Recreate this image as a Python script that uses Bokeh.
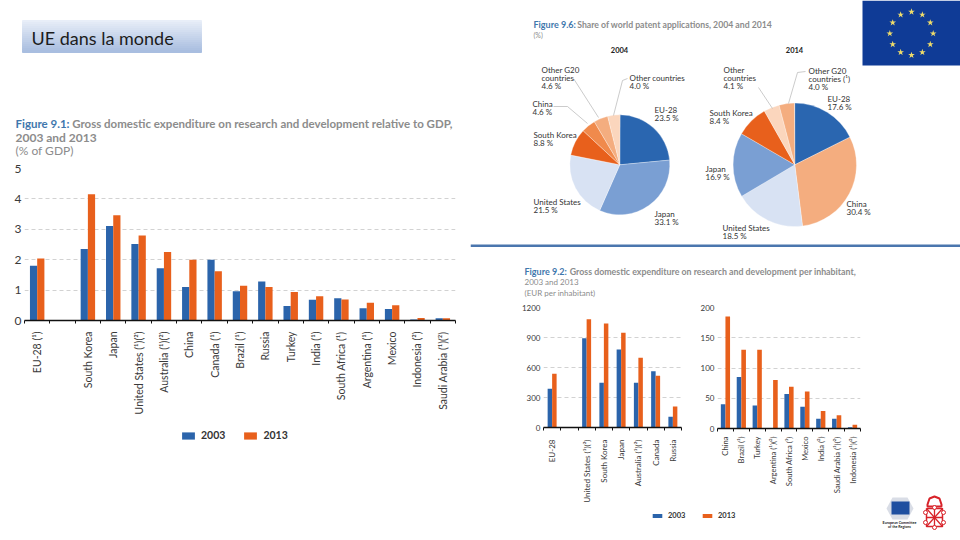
import math
from bokeh.plotting import figure
from bokeh.layouts import row, column
from bokeh.models import (ColumnDataSource, FixedTicker, Legend, LegendItem, Range1d)
from bokeh.core.properties import value
from bokeh.transform import dodge
from bokeh.embed import file_html
from bokeh.resources import INLINE

# ---------- data ----------
gdp_labels = ["EU-28 (¹)", "", "South Korea", "Japan", "United States (¹)(²)", "Australia (¹)(²)", "China",
              "Canada (¹)", "Brazil (¹)", "Russia", "Turkey", "India (¹)", "South Africa (¹)", "Argentina (¹)",
              "Mexico", "Indonesia (²)", "Saudi Arabia (¹)(²)"]
gdp_2003 = [1.80, 0, 2.35, 3.11, 2.52, 1.72, 1.10, 2.00, 0.96, 1.28, 0.48, 0.68, 0.73, 0.40, 0.38, 0.03, 0.07]
gdp_2013 = [2.04, 0, 4.15, 3.46, 2.80, 2.25, 2.00, 1.62, 1.14, 1.10, 0.94, 0.80, 0.69, 0.58, 0.50, 0.08, 0.07]

inh_a_labels = ["EU-28", "", "United States (¹)(²)", "South Korea", "Japan", "Australia (¹)(²)", "Canada", "Russia"]
inh_a_2003 = [387, 0, 893, 447, 780, 447, 563, 107]
inh_a_2013 = [537, 0, 1083, 1040, 947, 697, 517, 210]

inh_b_labels = ["China", "Brazil (¹)", "Turkey", "Argentina (¹)(²)", "South Africa (¹)", "Mexico", "India (²)",
                "Saudi Arabia (¹)(²)", "Indonesia (¹)(²)"]
inh_b_2003 = [40, 85, 38, 0, 57, 36, 16, 16, 2]
inh_b_2013 = [185, 130, 130, 80, 69, 61, 29, 22, 6]

pie04_names = ["EU-28", "Japan", "United States", "South Korea", "China", "Other G20 countries", "Other countries"]
pie04_share = [23.5, 33.1, 21.5, 8.8, 4.6, 4.6, 4.0]
pie14_names = ["EU-28", "China", "United States", "Japan", "South Korea", "Other countries", "Other G20 countries (¹)"]
pie14_share = [17.6, 30.4, 18.5, 16.9, 8.4, 4.1, 4.0]

series_names = ["2003", "2013"]

# ---------- style ----------
BLUE, ORANGE = "#2b64ab", "#e8601c"
GREY, FIGBLUE, DARK = "#8c8c8c", "#3f77ad", "#3a3a3a"
FONT = "Lato"
PIE04_COL = ["#2a66b0", "#7a9fd3", "#d8e2f3", "#e8601c", "#f08a4c", "#f4ad7f", "#fbd6bd"]
PIE14_COL = ["#2a66b0", "#f4ad7f", "#d8e2f3", "#7a9fd3", "#e8601c", "#fbd6bd", "#f4ad7f"]


def canvas(x0, x1, y0, y1):
    """A blank figure whose data coordinates run along the page in pixels."""
    p = figure(width=x1 - x0, height=y1 - y0, x_range=Range1d(x0, x1), y_range=Range1d(y1, y0),
               output_backend="svg", toolbar_location=None, min_border=0,
               x_axis_type=None, y_axis_type=None, outline_line_color=None, frame_align=False)
    p.grid.visible = False
    return p


def write(p, x, y, s, size=8, color=DARK, style="normal", align="left"):
    p.text([x], [y], text=[s], text_font=value(FONT), text_font_size=f"{size}px", text_color=color,
           text_font_style=style, text_align=align, text_baseline="middle")


def bars(labels, v03, v13, W, H, left, right, top, bottom, ymax, yticks, width,
         lab_size, tick_size, standoff):
    n = len(labels)
    src = ColumnDataSource(dict(i=list(range(n)), a=v03, b=v13))
    p = figure(width=W, height=H, x_range=Range1d(-0.5, n - 0.5), y_range=Range1d(0, ymax),
               output_backend="svg", toolbar_location=None, outline_line_color=None,
               min_border_left=left, min_border_right=right, min_border_top=top, min_border_bottom=bottom,
               frame_width=W - left - right, frame_height=H - top - bottom, frame_align=False)
    p.vbar(x=dodge("i", -width / 2, range=p.x_range), top="a", width=width, source=src,
           fill_color=BLUE, line_color=None)
    p.vbar(x=dodge("i", width / 2, range=p.x_range), top="b", width=width, source=src,
           fill_color=ORANGE, line_color=None)
    ax = p.xaxis[0]
    ax.ticker = FixedTicker(ticks=list(range(n)), minor_ticks=[i - 0.5 for i in range(n + 1)])
    ax.major_label_overrides = {i: s for i, s in enumerate(labels)}
    ax.major_label_orientation = math.pi / 2
    ax.major_tick_line_color = None
    ax.major_tick_in = ax.major_tick_out = 0
    ax.minor_tick_in = 0
    ax.minor_tick_out = 3
    ax.minor_tick_line_color = "#111111"
    ax.minor_tick_line_width = 1
    ax.axis_line_color = "#111111"
    ax.axis_line_width = 1.5
    ax.major_label_standoff = standoff
    ax.major_label_text_font = FONT
    ax.major_label_text_font_size = f"{lab_size}px"
    ax.major_label_text_color = DARK
    ay = p.yaxis[0]
    ay.ticker = FixedTicker(ticks=yticks)
    ay.axis_line_color = None
    ay.major_tick_line_color = None
    ay.minor_tick_line_color = None
    ay.major_tick_out = 0
    ay.major_label_standoff = 3
    ay.major_label_text_font = FONT
    ay.major_label_text_font_size = f"{tick_size}px"
    ay.major_label_text_color = DARK
    p.xgrid.visible = False
    p.ygrid.ticker = FixedTicker(ticks=yticks[1:])
    p.ygrid.grid_line_color = "#d2d2d2"
    p.ygrid.grid_line_dash = "4 3"
    return p


def legend_strip(x0, x1, y0, y1, loc, size, gw, gh, spacing):
    """A blank band carrying the shared 2003 / 2013 legend (its key glyphs lie off the frame)."""
    p = canvas(x0, x1, y0, y1)
    items = []
    for name, col in zip(series_names, (BLUE, ORANGE)):
        r = p.quad(left=[x0 - 9], right=[x0 - 8], top=[y0 - 9], bottom=[y0 - 8], fill_color=col, line_color=None)
        items.append(LegendItem(label=value(name), renderers=[r]))
    lg = Legend(items=items, location=loc, orientation="horizontal", border_line_color=None,
                background_fill_alpha=0, padding=0, margin=0, glyph_width=gw, glyph_height=gh,
                label_standoff=5, spacing=spacing, label_text_font=FONT, label_text_font_size=f"{size}px",
                label_text_font_style="bold", label_text_color="#333333", label_height=gh)
    p.add_layout(lg, "center")
    return p


# ---------- header + Figure 9.1 ----------
head = canvas(0, 470, 0, 160)
steps = 16
for k in range(steps):
    t = k / (steps - 1)
    col = "#%02x%02x%02x" % (int(232 - 63 * t), int(238 - 48 * t), int(248 - 24 * t))
    head.quad(left=[22], right=[201], top=[20 + k * 2], bottom=[22 + k * 2], fill_color=col, line_color=col)
write(head, 31, 37, "UE dans la monde", 18, "#1c1c1c")
write(head, 15, 122.7, "Figure 9.1:", 11.5, FIGBLUE, "bold")
write(head, 71.7, 122.7, "Gross domestic expenditure on research and development relative to GDP,", 11.5, GREY, "bold")
write(head, 15, 136.7, "2003 and 2013", 12, GREY, "bold")
write(head, 15, 150, "(% of GDP)", 12, GREY)

f91 = bars(gdp_labels, gdp_2003, gdp_2013, 470, 265, 24, 15, 8, 105, 5, [0, 1, 2, 3, 4, 5], 0.285, 10.5, 12, 8)
leg91 = legend_strip(0, 470, 425, 540, (180, 99), 10.5, 16, 9, 17)

# ---------- Figure 9.6 pies, flag, rule ----------
top = canvas(470, 960, 0, 247)


def pie(p, cx, cy, r, shares, cols):
    cum = 0.0
    s, e = [], []
    for v in shares:
        s.append(math.pi / 2 - cum / 100 * 2 * math.pi)
        cum += v
        e.append(math.pi / 2 - cum / 100 * 2 * math.pi)
    p.wedge(x=[cx] * len(shares), y=[cy] * len(shares), radius=r, start_angle=s, end_angle=e,
            direction="clock", fill_color=cols, line_color="white", line_width=0.3)


pie(top, 619.3, 164.3, 50, pie04_share, PIE04_COL)
pie(top, 794.3, 164.3, 61.7, pie14_share, PIE14_COL)

write(top, 533, 24, "Figure 9.6:", 9, FIGBLUE, "bold")
write(top, 576.7, 24, "Share of world patent applications, 2004 and 2014", 8.7, GREY, "bold")
write(top, 533, 34, "(%)", 7, GREY)
write(top, 619, 49, "2004", 7.5, "#222222", "bold", "center")
write(top, 794, 49, "2014", 7.5, "#222222", "bold", "center")

LEAD = "#b5b5b5"
for xs, ys in [([573, 598], [78, 117]), ([553, 567, 587], [106, 106, 123]), ([627, 622, 613], [78, 80, 115]),
               ([758, 772], [87, 108]), ([805, 797, 788], [71, 72, 103])]:
    top.line(xs, ys, line_color=LEAD, line_width=0.7)


def block(p, x, y, lines, share, step=8):
    for k, s in enumerate(lines + [f"{share:.1f} %"]):
        write(p, x, y + k * step, s, 8, "#333333")


block(top, 541, 69, ["Other G20", "countries"], pie04_share[5])
block(top, 629, 77, ["Other countries"], pie04_share[6])
block(top, 532, 103, ["China"], pie04_share[4])
block(top, 654, 109, ["EU-28"], pie04_share[0])
block(top, 533, 134, ["South Korea"], pie04_share[3])
block(top, 533, 201, ["United States"], pie04_share[2])
block(top, 654, 213, ["Japan"], pie04_share[1])
block(top, 723, 69, ["Other", "countries"], pie14_share[5])
block(top, 808, 70, ["Other G20", "countries (¹)"], pie14_share[6])
block(top, 827, 98, ["EU-28"], pie14_share[0])
block(top, 709, 112, ["South Korea"], pie14_share[4])
block(top, 705, 168, ["Japan"], pie14_share[3])
block(top, 846, 203, ["China"], pie14_share[1])
block(top, 722, 227, ["United States"], pie14_share[2])

top.quad(left=[862], right=[960], top=[0], bottom=[65], fill_color="#0f3b96", line_color=None)
star_x = [911 + 21.7 * math.cos(k * math.pi / 6) for k in range(12)]
star_y = [33 + 21.7 * math.sin(k * math.pi / 6) for k in range(12)]
top.scatter(star_x, star_y, marker="star", size=7, fill_color="#efdc6a", line_color=None)
top.quad(left=[470], right=[960], top=[244], bottom=[247], fill_color="#4a76ae", line_color=None)

# ---------- Figure 9.2 ----------
strip = canvas(470, 960, 247, 298)
write(strip, 524, 270.7, "Figure 9.2:", 9, FIGBLUE, "bold")
write(strip, 569.3, 270.7, "Gross domestic expenditure on research and development per inhabitant,", 8.8, GREY, "bold")
write(strip, 524, 281.7, "2003 and 2013", 8, GREY)
write(strip, 524, 292.7, "(EUR per inhabitant)", 8, GREY)

fa = bars(inh_a_labels, inh_a_2003, inh_a_2013, 220, 202, 73, 9, 9, 73, 1200, [0, 300, 600, 900, 1200], 0.26, 8, 8, 9)
fb = bars(inh_b_labels, inh_b_2003, inh_b_2013, 190, 202, 27, 20, 9, 72, 200, [0, 50, 100, 150, 200], 0.29, 7.6, 8, 5)
leg92 = legend_strip(470, 880, 500, 540, (181, 25), 7.5, 12, 5, 13)

# ---------- logos ----------
logo = canvas(880, 960, 298, 540)
logo.patch([886, 892, 907, 913, 907, 892], [508, 497, 497, 508, 519, 519], fill_color="#d9dde6", line_color=None)
logo.quad(left=[891], right=[909], top=[501], bottom=[514], fill_color="#1f4fa0", line_color=None)
write(logo, 899, 521.7, "European Committee", 3.6, "#222222", "bold", "center")
write(logo, 899, 525.7, "of the Regions", 3.6, "#222222", "bold", "center")
RED = "#d8232a"
logo.patch([927, 929, 934, 939, 941, 941, 927], [504, 498, 496, 498, 504, 506, 506], fill_color=None, line_color=RED, line_width=2)
logo.line([926, 942, 942, 926, 926], [508, 508, 526, 526, 508], line_color=RED, line_width=1.5)
logo.line([926, 942], [508, 526], line_color=RED, line_width=1.3)
logo.line([942, 926], [508, 526], line_color=RED, line_width=1.3)
logo.line([934, 934], [508, 526], line_color=RED, line_width=1.3)
logo.line([926, 942], [517, 517], line_color=RED, line_width=1.3)
logo.scatter([925, 943, 925, 943, 934, 934], [512, 512, 522, 522, 507, 527], size=4, fill_color="white", line_color=RED, line_width=1)

# ---------- page ----------
page = row(column(head, f91, leg91), column(top, strip, row(column(row(fa, fb), leg92), logo)))
open("out.html", "w").write(file_html(page, INLINE))
